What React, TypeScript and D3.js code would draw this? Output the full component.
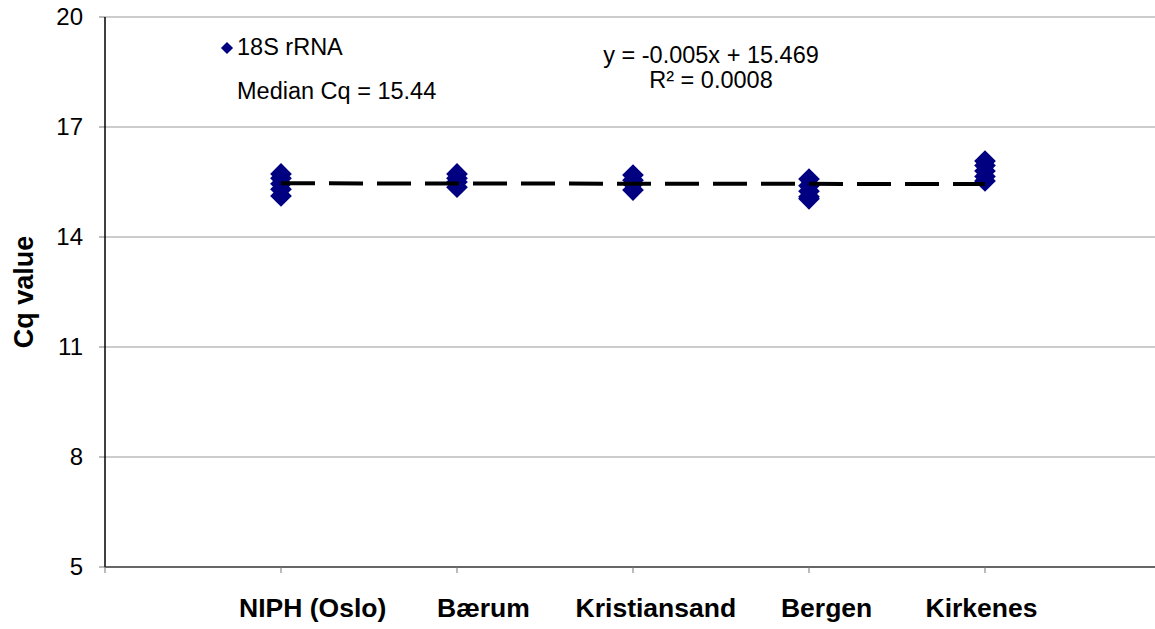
import React from "react";
import * as d3 from "d3";

const categories = ["NIPH (Oslo)", "Bærum", "Kristiansand", "Bergen", "Kirkenes"];
const categoryX = [1, 2, 3, 4, 5];
const labelX = [1.18, 2.15, 3.13, 4.1, 4.98];
const values: number[][] = [
  [15.72, 15.6, 15.45, 15.3, 15.12],
  [15.72, 15.6, 15.5, 15.36],
  [15.69, 15.55, 15.45, 15.28],
  [15.58, 15.4, 15.25, 15.1, 15.04],
  [16.07, 15.95, 15.8, 15.65, 15.53],
];
const yTicks = [5, 8, 11, 14, 17, 20];
const xTicks = [0, 1, 2, 3, 4, 5];
const slope = -0.005;
const intercept = 15.469;
const seriesName = "18S rRNA";
const medianText = "Median Cq = 15.44";
const eqText = "y = -0.005x + 15.469";
const r2Text = "R² = 0.0008";

const W = 1155;
const H = 629;
const left = 105;
const top = 17;
const bottom = 567;

export default function App() {
  const x = d3.scaleLinear().domain([0, 6]).range([left, left + 176 * 6]);
  const y = d3.scaleLinear().domain([5, 20]).range([bottom, top]);
  const diamond = d3.symbol().type(d3.symbolDiamond2).size(300)();
  const legendDiamond = d3.symbol().type(d3.symbolDiamond2).size(95)();
  const font = "Liberation Sans, Arial, sans-serif";
  const trend = d3.line<number>().x((d) => x(d)).y((d) => y(slope * d + intercept));
  return (
    <svg width={W} height={H} style={{ position: "absolute", left: 0, top: 0, background: "#fff" }} fontFamily={font}>
      {yTicks.map((t) => (
        <g key={t}>
          {t !== 5 && <line x1={left} x2={W} y1={y(t)} y2={y(t)} stroke="#999" strokeWidth={1} />}
          <line x1={left - 6} x2={left} y1={y(t)} y2={y(t)} stroke="#777" strokeWidth={1} />
          <text x={83} y={y(t)} dy="0.35em" textAnchor="end" fontSize={24} fill="#000">{t}</text>
        </g>
      ))}
      <line x1={left} x2={left} y1={top} y2={bottom} stroke="#000" strokeWidth={1.5} />
      <line x1={left} x2={W} y1={bottom} y2={bottom} stroke="#333" strokeWidth={1.6} />
      {xTicks.map((t) => (
        <line key={t} x1={x(t)} x2={x(t)} y1={bottom} y2={bottom + 6} stroke="#777" strokeWidth={1} />
      ))}
      {values.map((vals, i) =>
        vals.map((v, j) => (
          <path key={i + "-" + j} d={diamond!} transform={`translate(${x(categoryX[i])},${y(v)})`} fill="#000080" />
        ))
      )}
      <path d={trend([categoryX[0], categoryX[categoryX.length - 1]])!} stroke="#000" strokeWidth={4} strokeDasharray="34 14" fill="none" />
      {categories.map((c, i) => (
        <text key={c} x={x(labelX[i])} y={617} textAnchor="middle" fontSize={26.5} fontWeight="bold">{c}</text>
      ))}
      <text transform={`translate(33,${(top + bottom) / 2}) rotate(-90)`} textAnchor="middle" fontSize={27} fontWeight="bold">Cq value</text>
      <path d={legendDiamond!} transform="translate(227,48)" fill="#000080" />
      <text x={237} y={55} fontSize={23.5}>{seriesName}</text>
      <text x={237} y={99} fontSize={23.5}>{medianText}</text>
      <text x={711} y={63} textAnchor="middle" fontSize={23.5}>{eqText}</text>
      <text x={711} y={88} textAnchor="middle" fontSize={23.5}>{r2Text}</text>
    </svg>
  );
}
